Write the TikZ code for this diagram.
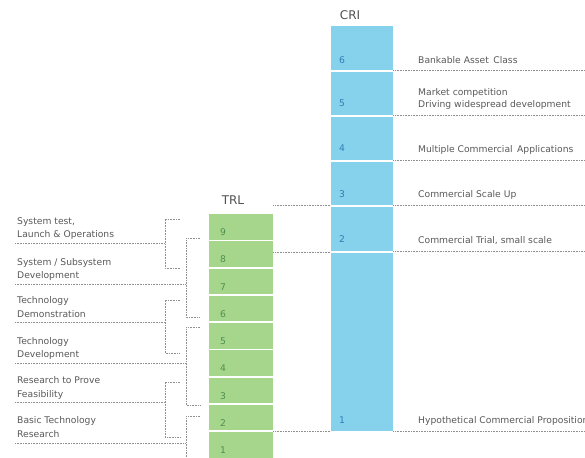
\documentclass[tikz,border=0pt]{standalone}
\usepackage{fontspec}
\setmainfont{DejaVu Sans}
\definecolor{trlgreen}{HTML}{A6D68C}
\definecolor{criblue}{HTML}{86D2EC}
\definecolor{txtgray}{HTML}{585858}
\definecolor{titlegray}{HTML}{505050}
\definecolor{dotgray}{HTML}{909090}
\definecolor{trlnumc}{HTML}{4E8F4E}
\definecolor{crinumc}{HTML}{2F7DB5}
\begin{document}
\begin{tikzpicture}[x=1pt,y=-1pt,
  font=\fontsize{9.2}{13.5}\selectfont,
  cell/.style={draw=none, inner sep=0, anchor=north west, minimum width=64pt},
  trlcell/.style={cell, fill=trlgreen, minimum height=25.5pt},
  cricell/.style={cell, fill=criblue, minimum width=62pt},
  trlnum/.style={text=trlnumc, anchor=base west, inner sep=0},
  crinum/.style={text=crinumc, anchor=base west, inner sep=0},
  lbl/.style={text=txtgray, align=left, anchor=south west, inner sep=0, text depth=0pt},
  rlbl/.style={text=txtgray, anchor=base west, inner sep=0},
  title/.style={text=titlegray, font=\fontsize{12}{14}\selectfont, anchor=base, inner sep=0},
  dotline/.style={draw=dotgray, line width=0.6pt, dash pattern=on 0.8pt off 0.8pt},
]
\clip (0,0) rectangle (585,457);
\coordinate (edge) at (585,0);

% TRL column
\node[title] (trlt) at (233,204) {TRL};
\foreach \i in {1,...,9}{
  \pgfmathsetmacro\t{214+(9-\i)*27.25}
  \node[trlcell] (trl\i) at (209,\t) {};
  \node[trlnum] (trln\i) at (220,\t+21.5) {\i};
}

% CRI column
\node[title] (crit) at (350,19.5) {CRI};
\node[cricell, minimum height=44.25pt] (cri6) at (331,26) {};
\node[cricell, minimum height=43.5pt] (cri5) at (331,71.75) {};
\node[cricell, minimum height=43.5pt] (cri4) at (331,116.75) {};
\node[cricell, minimum height=43.5pt] (cri3) at (331,161.75) {};
\node[cricell, minimum height=44.5pt] (cri2) at (331,206.75) {};
\node[cricell, minimum height=178.25pt] (cri1) at (331,252.75) {};
\node[crinum] (crin6) at (339,63.3) {6};
\node[crinum] (crin5) at (339,106.5) {5};
\node[crinum] (crin4) at (339,151.5) {4};
\node[crinum] (crin3) at (339,197.5) {3};
\node[crinum] (crin2) at (339,242.5) {2};
\node[crinum] (crin1) at (339,423.5) {1};

% CRI labels
\node[rlbl] (r6) at (418,63.5) {Bankable Asset\, Class};
\node[lbl, font=\fontsize{9.2}{12}\selectfont] (r5) at (418,107.5) {Market competition\\Driving widespread development};
\node[rlbl] (r4) at (418,152.5) {Multiple Commercial\, Applications};
\node[rlbl] (r3) at (418,197.5) {Commercial Scale Up};
\node[rlbl] (r2) at (418,243) {Commercial Trial, small scale};
\node[rlbl] (r1) at (418,423.5) {Hypothetical Commercial Proposition};

% right dotted lines
\foreach \c in {cri6,cri5,cri4,cri3,cri2,cri1}{
  \draw[dotline] (\c.south east) -- (\c.south east -| edge);
}
% TRL to CRI connectors
\draw[dotline] (cri3.south west -| trl9.east) -- (cri3.south west);
\draw[dotline] (cri1.north west -| trl8.east) -- (cri1.north west);
\draw[dotline] (cri1.south west -| trl2.east) -- (cri1.south west);

% left labels
\node[lbl] (l1) at (17,238) {System test,\\Launch \& Operations};
\node[lbl] (l2) at (17,279) {System / Subsystem\\Development};
\node[lbl] (l3) at (17,317.5) {Technology\\Demonstration};
\node[lbl] (l4) at (17,358) {Technology\\Development};
\node[lbl] (l5) at (17,397.5) {Research to Prove\\Feasibility};
\node[lbl] (l6) at (17,437.5) {Basic Technology\\Research};

% underlines
\draw[dotline] (15,243) coordinate (u1) -- (165,243);
\draw[dotline] (15,284) coordinate (u2) -- (186,284);
\draw[dotline] (15,322.5) coordinate (u3) -- (165,322.5);
\draw[dotline] (15,363) coordinate (u4) -- (186,363);
\draw[dotline] (15,402) coordinate (u5) -- (165,402);
\draw[dotline] (15,443) coordinate (u6) -- (186,443);

% brackets
\draw[dotline] (180,219) -- (165,219) -- (165,268) -- (180,268);
\draw[dotline] (200,238) -- (186,238) -- (186,317) -- (200,317);
\draw[dotline] (180,300) -- (165,300) -- (165,353) -- (180,353);
\draw[dotline] (200,327) -- (186,327) -- (186,405) -- (200,405);
\draw[dotline] (180,382) -- (165,382) -- (165,437) -- (180,437);
\draw[dotline] (200,416) -- (186,416) -- (186,470);
\end{tikzpicture}
\end{document}
